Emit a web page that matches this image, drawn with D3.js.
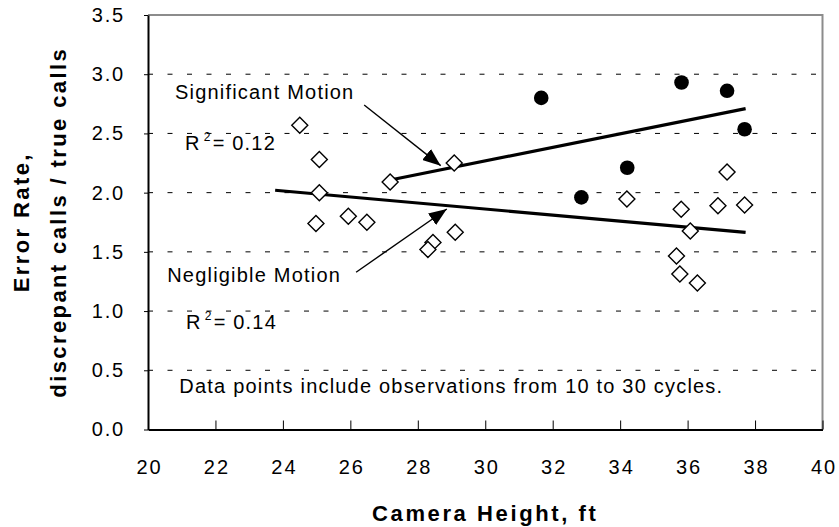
<!DOCTYPE html>
<html>
<head>
<meta charset="utf-8">
<script src="https://cdn.jsdelivr.net/npm/d3@7"></script>
<style>
  body { margin: 0; background: #fff; }
  text { font-family: "Liberation Sans", Arial, sans-serif; fill: #000; }
</style>
</head>
<body>
<div id="chart"></div>
<script>
// negligible motion (open diamonds)
const negHeight = [24.5, 25.08, 25.08, 24.98, 25.94, 26.49, 27.18, 28.45, 28.3, 29.08, 29.11, 34.2, 35.67, 35.77, 35.81, 36.08, 36.29, 36.9, 37.17, 37.69];
const negRate   = [2.57, 2.28, 2.0, 1.74, 1.8, 1.75, 2.09, 1.58, 1.52, 2.25, 1.665, 1.947, 1.465, 1.313, 1.86, 1.676, 1.237, 1.89, 2.175, 1.896];

// significant motion (filled circles)
const sigHeight = [31.66, 32.85, 34.21, 35.82, 37.17, 37.69];
const sigRate   = [2.8, 1.96, 2.21, 2.93, 2.86, 2.535];

// trend line end points
const sigTrendX = [27.18, 37.72];
const sigTrendY = [2.107, 2.71];
const negTrendX = [23.77, 37.72];
const negTrendY = [2.02, 1.665];

const xTicks = [20, 22, 24, 26, 28, 30, 32, 34, 36, 38, 40];
const yTicks = [0, 0.5, 1.0, 1.5, 2.0, 2.5, 3.0, 3.5];

const width = 839, height = 527;
const margin = { top: 15, right: 16.5, bottom: 97.5, left: 148 };
const w = width - margin.left - margin.right;
const h = height - margin.top - margin.bottom;

const svg = d3.select("#chart")
  .append("svg")
  .attr("width", width)
  .attr("height", height);

const g = svg.append("g")
  .attr("transform", `translate(${margin.left},${margin.top})`);

const x = d3.scaleLinear().domain([20, 40]).range([0, w]);
const y = d3.scaleLinear().domain([0, 3.5]).range([h, 0]);

// dashed gridlines
g.selectAll(".grid")
  .data(yTicks.filter(d => d > 0 && d < 3.5))
  .join("line")
  .attr("x1", 0).attr("x2", w)
  .attr("y1", d => y(d)).attr("y2", d => y(d))
  .attr("stroke", "#000")
  .attr("stroke-width", 1)
  .attr("stroke-dasharray", "5,14.5");

// grey frame on top / right
g.append("path")
  .attr("d", `M0,0H${w}V${h}`)
  .attr("fill", "none")
  .attr("stroke", "#8c8c8c")
  .attr("stroke-width", 2);

// y axis
const yAxis = g.append("g")
  .call(d3.axisLeft(y).tickValues(yTicks).tickSize(4).tickSizeOuter(0).tickFormat(d3.format(".1f")));
yAxis.select(".domain").attr("stroke-width", 2);
yAxis.selectAll("text")
  .attr("x", -23)
  .style("font-size", "20px")
  .style("letter-spacing", "1.8px");

// x axis, ticks pointing inward
const xAxis = g.append("g")
  .attr("transform", `translate(0,${h})`)
  .call(d3.axisTop(x).tickValues(xTicks).tickSize(9).tickSizeOuter(0).tickFormat(d3.format("d")));
xAxis.select(".domain").attr("stroke-width", 2);
xAxis.selectAll("text")
  .attr("y", 44.5)
  .attr("dy", 0)
  .attr("dx", "1px")
  .style("font-size", "20px")
  .style("letter-spacing", "2px");

// axis titles
svg.append("text")
  .attr("x", margin.left + w / 2)
  .attr("y", 521)
  .attr("text-anchor", "middle")
  .style("font-size", "22px")
  .style("font-weight", "bold")
  .style("letter-spacing", "2.6px")
  .text("Camera Height, ft");

const yTitle = svg.append("text")
  .attr("transform", `translate(0,${margin.top + h / 2}) rotate(-90)`)
  .attr("text-anchor", "middle")
  .style("font-size", "22px")
  .style("font-weight", "bold")
  .style("letter-spacing", "2.4px");
yTitle.append("tspan").attr("x", 0).attr("y", 29).text("Error Rate,");
yTitle.append("tspan").attr("x", 0).attr("y", 66).text("discrepant calls / true calls");

// trend lines
const line = d3.line().x(d => x(d[0])).y(d => y(d[1]));
g.append("path")
  .datum(d3.zip(sigTrendX, sigTrendY))
  .attr("d", line)
  .attr("stroke", "#000").attr("stroke-width", 3.2).attr("fill", "none");
g.append("path")
  .datum(d3.zip(negTrendX, negTrendY))
  .attr("d", line)
  .attr("stroke", "#000").attr("stroke-width", 3.2).attr("fill", "none");

// diamonds
g.selectAll(".neg")
  .data(d3.zip(negHeight, negRate))
  .join("path")
  .attr("transform", d => `translate(${x(d[0])},${y(d[1])})`)
  .attr("d", "M0,-8L8,0L0,8L-8,0Z")
  .attr("fill", "#fff")
  .attr("stroke", "#000")
  .attr("stroke-width", 1.4);

// circles
g.selectAll(".sig")
  .data(d3.zip(sigHeight, sigRate))
  .join("circle")
  .attr("cx", d => x(d[0]))
  .attr("cy", d => y(d[1]))
  .attr("r", 7.3)
  .attr("fill", "#000");

// annotation arrows
svg.append("defs").append("marker")
  .attr("id", "head")
  .attr("viewBox", "0 0 18 14")
  .attr("refX", 18).attr("refY", 7)
  .attr("markerWidth", 18).attr("markerHeight", 14)
  .attr("markerUnits", "userSpaceOnUse")
  .attr("orient", "auto")
  .append("path")
  .attr("d", "M0,0L18,7L0,14Z")
  .attr("fill", "#000");

const arrows = [
  [[26.41, 2.74], [28.68, 2.228]],
  [[26.17, 1.328], [28.86, 1.862]]
];
g.selectAll(".arrow")
  .data(arrows)
  .join("line")
  .attr("x1", d => x(d[0][0])).attr("y1", d => y(d[0][1]))
  .attr("x2", d => x(d[1][0])).attr("y2", d => y(d[1][1]))
  .attr("stroke", "#000")
  .attr("stroke-width", 1.4)
  .attr("marker-end", "url(#head)");

// labels
function label(px, py, txt) {
  return g.append("text")
    .attr("x", x(px)).attr("y", y(py))
    .style("font-size", "20px")
    .style("letter-spacing", "1.2px")
    .text(txt);
}
label(20.8, 2.794, "Significant Motion");
label(20.57, 1.248, "Negligible Motion");
label(20.93, 0.311, "Data points include observations from 10 to 30 cycles.");

function rsq(px, py, val) {
  const t = g.append("text")
    .attr("x", x(px)).attr("y", y(py))
    .style("font-size", "20px")
    .style("letter-spacing", "1.2px");
  t.append("tspan").text("R");
  t.append("tspan").attr("dx", 3).attr("dy", -9).style("font-size", "12px").text("2");
  t.append("tspan").attr("dx", 1).attr("dy", 9).text("= " + val);
}
rsq(21.1, 2.36, "0.12");
rsq(21.13, 0.846, "0.14");
</script>
</body>
</html>
